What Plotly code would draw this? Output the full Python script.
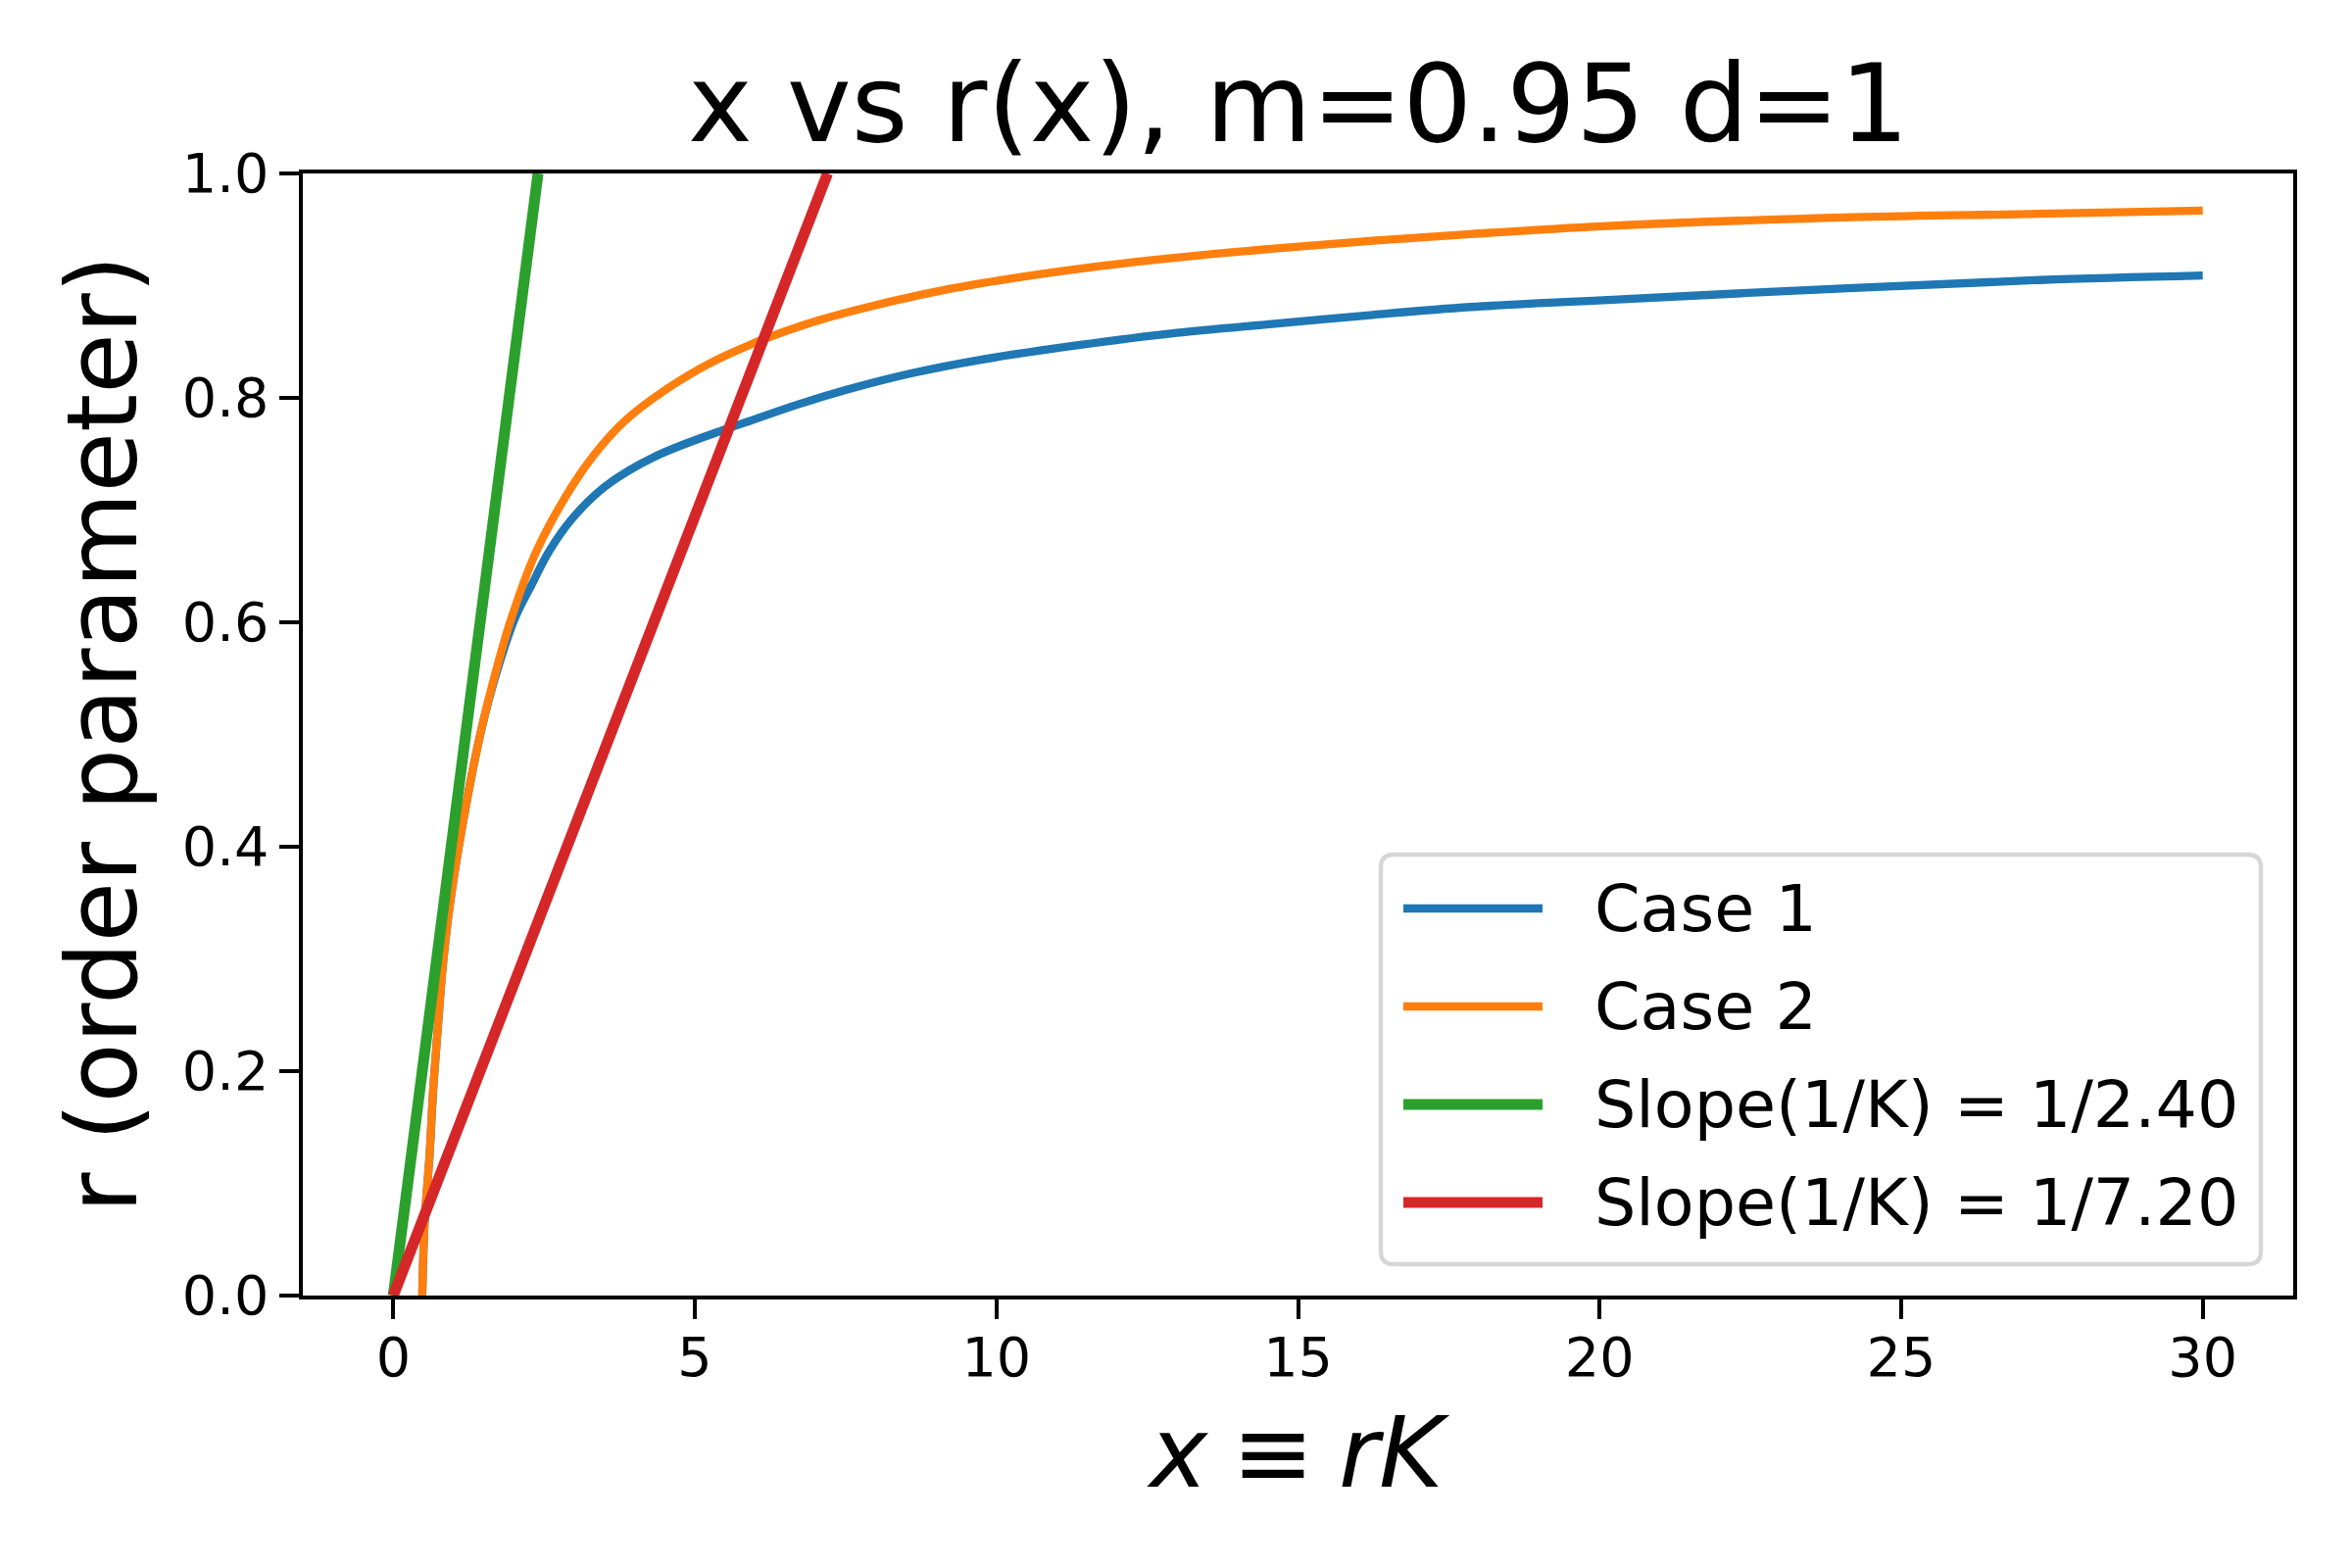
import plotly.graph_objects as go

# --- data ---
case1_x = [0.48, 0.52, 0.60, 0.66, 0.74, 0.83, 0.96, 1.23, 1.45, 1.70, 2.02, 2.29,
           2.58, 2.96, 3.51, 4.35, 5.56, 5.89, 6.70, 7.57, 8.60, 9.74, 11.36, 12.99,
           14.61, 16.24, 17.86, 20.05, 24.20, 27.30, 30.00]
case1_r = [0.000, 0.066, 0.124, 0.182, 0.240, 0.299, 0.357, 0.444, 0.502, 0.553,
           0.604, 0.633, 0.663, 0.692, 0.721, 0.748, 0.773, 0.779, 0.794, 0.808,
           0.822, 0.834, 0.847, 0.858, 0.866, 0.874, 0.881, 0.887, 0.898, 0.905, 0.909]

case2_x = [0.48, 0.52, 0.60, 0.66, 0.74, 0.83, 0.96, 1.23, 1.45, 1.65, 1.96, 2.37,
           2.96, 3.34, 3.83, 4.48, 5.29, 6.13, 6.86, 7.73, 8.76, 9.74, 11.36, 12.99,
           14.61, 16.24, 17.86, 20.05, 24.20, 27.30, 30.00]
case2_r = [0.000, 0.066, 0.124, 0.182, 0.240, 0.299, 0.357, 0.444, 0.502, 0.546,
           0.604, 0.663, 0.721, 0.750, 0.779, 0.806, 0.832, 0.852, 0.866, 0.879,
           0.892, 0.902, 0.915, 0.925, 0.933, 0.940, 0.946, 0.953, 0.961, 0.964, 0.967]

slope1_x = [0.0, 2.4]
slope1_r = [0.0, 1.0]
slope2_x = [0.0, 7.2]
slope2_r = [0.0, 1.0]

names = ["Case 1", "Case 2", "Slope(1/K) = 1/2.40", "Slope(1/K) = 1/7.20"]
colors = ["#1f77b4", "#ff7f0e", "#2ca02c", "#d62728"]
widths = [8.3, 8.3, 11.1, 11.1]

W, H = 2400, 1600
L, R, T, B = 309, 2340, 177, 1322   # plot area on the page, pixels
OFF = 8                              # page body margin shifts the figure
FONT = "DejaVu Sans"


def px(x):
    return (x - L) / (R - L)


def py(y):
    return (B - y) / (B - T)


fig = go.Figure()
series = [(case1_x, case1_r), (case2_x, case2_r), (slope1_x, slope1_r), (slope2_x, slope2_r)]
for i, ((xs, ys), name, c, w) in enumerate(zip(series, names, colors, widths)):
    fig.add_trace(go.Scatter(x=xs, y=ys, mode="lines", name=name, showlegend=False,
                             line=dict(color=c, width=w,
                                       shape="spline" if i < 2 else "linear",
                                       smoothing=1.0)))

# --- legend drawn by hand (matplotlib style box) ---
x0, x1, y0, y1 = px(1409), px(2307), py(1290), py(872)
rx, ry = 13.3 / (R - L), 13.3 / (B - T)
path = (f"M{x0+rx},{y0} L{x1-rx},{y0} Q{x1},{y0} {x1},{y0+ry} "
        f"L{x1},{y1-ry} Q{x1},{y1} {x1-rx},{y1} "
        f"L{x0+rx},{y1} Q{x0},{y1} {x0},{y1-ry} "
        f"L{x0},{y0+ry} Q{x0},{y0} {x0+rx},{y0} Z")
fig.add_shape(type="path", path=path, xref="paper", yref="paper",
              fillcolor="white", line=dict(color="#d6d6d6", width=4.4), layer="above")

rows = [927, 1027, 1127, 1227]
for row, name, c, w in zip(rows, names, colors, widths):
    fig.add_shape(type="line", xref="paper", yref="paper",
                  x0=px(1432), x1=px(1574), y0=py(row), y1=py(row),
                  line=dict(color=c, width=w), layer="above")
    fig.add_annotation(text=name, xref="paper", yref="paper", x=px(1625), y=py(row),
                       xanchor="left", yanchor="middle", showarrow=False,
                       font=dict(family=FONT, size=66.7, color="black"))

# --- title and axis labels ---
fig.add_annotation(text="x vs r(x), m=0.95 d=1", xref="paper", yref="paper",
                   x=0.5, y=py(172), xanchor="center", yanchor="bottom", showarrow=False,
                   font=dict(family=FONT, size=111, color="black"))
fig.add_annotation(text="<i>x</i>\u2005≡\u2005<i>rK</i>", xref="paper", yref="paper",
                   x=0.5, y=py(1422), xanchor="center", yanchor="top", showarrow=False,
                   font=dict(family=FONT, size=100, color="black"))
fig.add_annotation(text="r (order parameter)", xref="paper", yref="paper",
                   x=px(104), y=0.5, xanchor="center", yanchor="middle", textangle=-90,
                   showarrow=False, font=dict(family=FONT, size=100, color="black"))

axis_style = dict(showline=True, linecolor="black", linewidth=4.4, mirror=True,
                  ticks="outside", ticklen=19.4, tickwidth=4.4, tickcolor="black",
                  showgrid=False, zeroline=False,
                  tickfont=dict(family=FONT, size=55.6, color="black"))

fig.update_xaxes(range=[-1.5, 31.5], tickvals=[0, 5, 10, 15, 20, 25, 30],
                 ticklabelstandoff=-8, **axis_style)
fig.update_yaxes(range=[0, 1], tickvals=[0, 0.2, 0.4, 0.6, 0.8, 1.0], tickformat=".1f",
                 **axis_style)

fig.update_layout(width=W, height=H, plot_bgcolor="white", paper_bgcolor="white",
                  margin=dict(l=L - OFF, r=W - R + OFF, t=T - OFF, b=H - B + OFF,
                              autoexpand=False),
                  showlegend=False, font=dict(family=FONT))

fig.write_html("out.html")
